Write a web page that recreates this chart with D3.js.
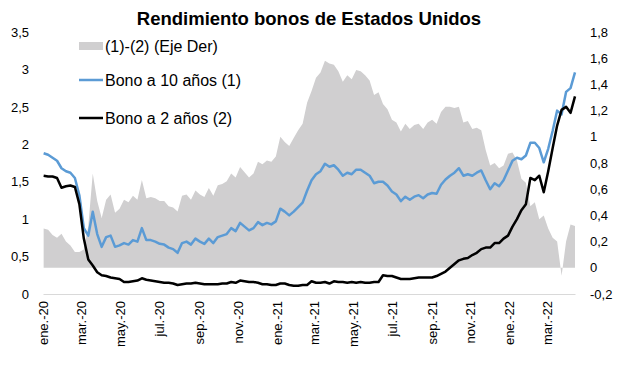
<!DOCTYPE html>
<html lang="es">
<head>
	<meta charset="UTF-8">
	<script src="https://d3js.org/d3.v7.min.js"></script>
	<title>Rendimiento bonos de Estados Unidos</title>
	<style>
		body { margin: 0; background: #fff; }
		text { font-family: "Liberation Sans", Arial, Helvetica, sans-serif; fill: #000; }
		.title { font-size: 18.5px; font-weight: bold; }
		.legend { font-size: 16px; }
		.tick text { font-size: 13px; }
	</style>
</head>
<body>
<script>
	// semanal, desde el 2 de enero de 2020
	const firstDate = "2020-01-02";
	const bono10 = [
		1.88, 1.86, 1.82, 1.78, 1.68, 1.64, 1.62, 1.55, 1.32, 0.88,
		0.78, 1.10, 0.80, 0.63, 0.76, 0.78, 0.63, 0.65, 0.68, 0.66,
		0.72, 0.70, 0.88, 0.72, 0.72, 0.70, 0.67, 0.66, 0.62, 0.60,
		0.55, 0.68, 0.70, 0.66, 0.74, 0.70, 0.67, 0.74, 0.68, 0.76,
		0.78, 0.80, 0.88, 0.84, 0.95, 0.90, 0.85, 0.88, 0.96, 0.92,
		0.95, 0.93, 0.97, 1.14, 1.10, 1.05, 1.10, 1.16, 1.22, 1.38,
		1.52, 1.60, 1.64, 1.74, 1.70, 1.72, 1.66, 1.58, 1.62, 1.60,
		1.66, 1.66, 1.62, 1.58, 1.48, 1.50, 1.50, 1.45, 1.37, 1.33,
		1.24, 1.30, 1.26, 1.30, 1.32, 1.28, 1.33, 1.35, 1.34, 1.46,
		1.53, 1.58, 1.62, 1.68, 1.58, 1.60, 1.58, 1.62, 1.65, 1.52,
		1.40, 1.48, 1.44, 1.52, 1.65, 1.78, 1.82, 1.80, 1.85, 2.02,
		2.02, 1.95, 1.76, 1.94, 2.18, 2.45, 2.40, 2.70, 2.75, 2.96
	];
	const bono2 = [
		1.58, 1.57, 1.57, 1.55, 1.42, 1.44, 1.45, 1.43, 1.20, 0.74,
		0.46, 0.38, 0.29, 0.25, 0.24, 0.22, 0.21, 0.20, 0.16, 0.16,
		0.17, 0.18, 0.21, 0.19, 0.18, 0.17, 0.16, 0.15, 0.15, 0.14,
		0.12, 0.13, 0.14, 0.14, 0.15, 0.14, 0.13, 0.13, 0.13, 0.13,
		0.14, 0.14, 0.16, 0.15, 0.18, 0.17, 0.16, 0.16, 0.15, 0.13,
		0.13, 0.12, 0.12, 0.14, 0.14, 0.12, 0.11, 0.11, 0.12, 0.12,
		0.17, 0.15, 0.15, 0.16, 0.14, 0.17, 0.16, 0.16, 0.15, 0.16,
		0.15, 0.16, 0.15, 0.15, 0.16, 0.16, 0.25, 0.24, 0.24, 0.22,
		0.20, 0.20, 0.20, 0.21, 0.22, 0.22, 0.22, 0.22, 0.24, 0.27,
		0.30, 0.35, 0.40, 0.45, 0.47, 0.48, 0.52, 0.55, 0.60, 0.62,
		0.62, 0.68, 0.68, 0.74, 0.78, 0.90, 1.00, 1.12, 1.20, 1.55,
		1.52, 1.58, 1.36, 1.64, 1.95, 2.25, 2.46, 2.50, 2.42, 2.64
	];
	const xTickLabels = ["ene.-20", "mar.-20", "may.-20", "jul.-20", "sep.-20", "nov.-20",
		"ene.-21", "mar.-21", "may.-21", "jul.-21", "sep.-21", "nov.-21", "ene.-22", "mar.-22"];
	const leftTicks = [0, 0.5, 1, 1.5, 2, 2.5, 3, 3.5];
	const rightTicks = [-0.2, 0, 0.2, 0.4, 0.6, 0.8, 1, 1.2, 1.4, 1.6, 1.8];

	const svg = d3.select("body").append("svg")
		.attr("width", 617)
		.attr("height", 375);

	const parse = d3.timeParse("%Y-%m-%d");
	const start = parse(firstDate);
	const data = bono10.map(function (v, i) {
		return { date: d3.timeDay.offset(start, 7 * i), b10: v, b2: bono2[i], spread: v - bono2[i] };
	});

	let x = d3.scaleTime()
			.domain([new Date(2020, 0, 1), new Date(2022, 3, 14)])
			.range([43, 575]),
		yL = d3.scaleLinear().domain([0, 3.5]).range([294, 32]),
		yR = d3.scaleLinear().domain([-0.2, 1.8]).range([294, 32]);

	const fmt = function (v) { return String(+v.toFixed(1)).replace(".", ","); };

	// area (1)-(2), eje derecho
	svg.append("path")
		.datum(data)
		.attr("fill", "#d0cfd0")
		.attr("d", d3.area()
			.x(function (d) { return x(d.date); })
			.y0(yR(0))
			.y1(function (d) { return yR(d.spread); }));

	// eje x
	const tickDates = xTickLabels.map(function (l, i) { return new Date(2020, 2 * i, 1); });
	const xAxis = svg.append("g")
		.attr("transform", "translate(0,294)")
		.call(d3.axisBottom(x)
			.tickValues(tickDates)
			.tickSize(0)
			.tickFormat(function (d, i) { return xTickLabels[i]; }));
	xAxis.select(".domain").attr("stroke", "#d9d9d9").attr("stroke-width", 1);
	xAxis.selectAll(".tick text")
		.attr("transform", "rotate(-90)")
		.attr("text-anchor", "end")
		.attr("x", -7)
		.attr("y", 0)
		.attr("dy", "0.35em");

	// ejes y
	const left = svg.append("g")
		.attr("transform", "translate(29,0)")
		.call(d3.axisLeft(yL).tickValues(leftTicks).tickSize(0).tickPadding(0).tickFormat(fmt));
	left.select(".domain").remove();

	const right = svg.append("g")
		.attr("transform", "translate(590,0)")
		.call(d3.axisRight(yR).tickValues(rightTicks).tickSize(0).tickPadding(0).tickFormat(fmt));
	right.select(".domain").remove();

	// lineas
	svg.append("path")
		.datum(data)
		.attr("fill", "none")
		.attr("stroke", "#5b9bd5")
		.attr("stroke-width", 2.5)
		.attr("stroke-linejoin", "round")
		.attr("d", d3.line()
			.x(function (d) { return x(d.date); })
			.y(function (d) { return yL(d.b10); }));

	svg.append("path")
		.datum(data)
		.attr("fill", "none")
		.attr("stroke", "#000")
		.attr("stroke-width", 2.5)
		.attr("stroke-linejoin", "round")
		.attr("d", d3.line()
			.x(function (d) { return x(d.date); })
			.y(function (d) { return yL(d.b2); }));

	// titulo
	svg.append("text")
		.attr("class", "title")
		.attr("x", 309)
		.attr("y", 25)
		.attr("text-anchor", "middle")
		.text("Rendimiento bonos de Estados Unidos");

	// leyenda
	const legend = svg.append("g").attr("class", "legend");
	legend.append("rect")
		.attr("x", 79).attr("y", 42).attr("width", 24).attr("height", 8)
		.attr("fill", "#d0cfd0");
	legend.append("text").attr("x", 105).attr("y", 52).text("(1)-(2) (Eje Der)");
	legend.append("line")
		.attr("x1", 79).attr("x2", 103).attr("y1", 80).attr("y2", 80)
		.attr("stroke", "#5b9bd5").attr("stroke-width", 2.5);
	legend.append("text").attr("x", 105).attr("y", 86).text("Bono a 10 años (1)");
	legend.append("line")
		.attr("x1", 79).attr("x2", 103).attr("y1", 118).attr("y2", 118)
		.attr("stroke", "#000").attr("stroke-width", 2.5);
	legend.append("text").attr("x", 105).attr("y", 124).text("Bono a 2 años (2)");
</script>
</body>
</html>
